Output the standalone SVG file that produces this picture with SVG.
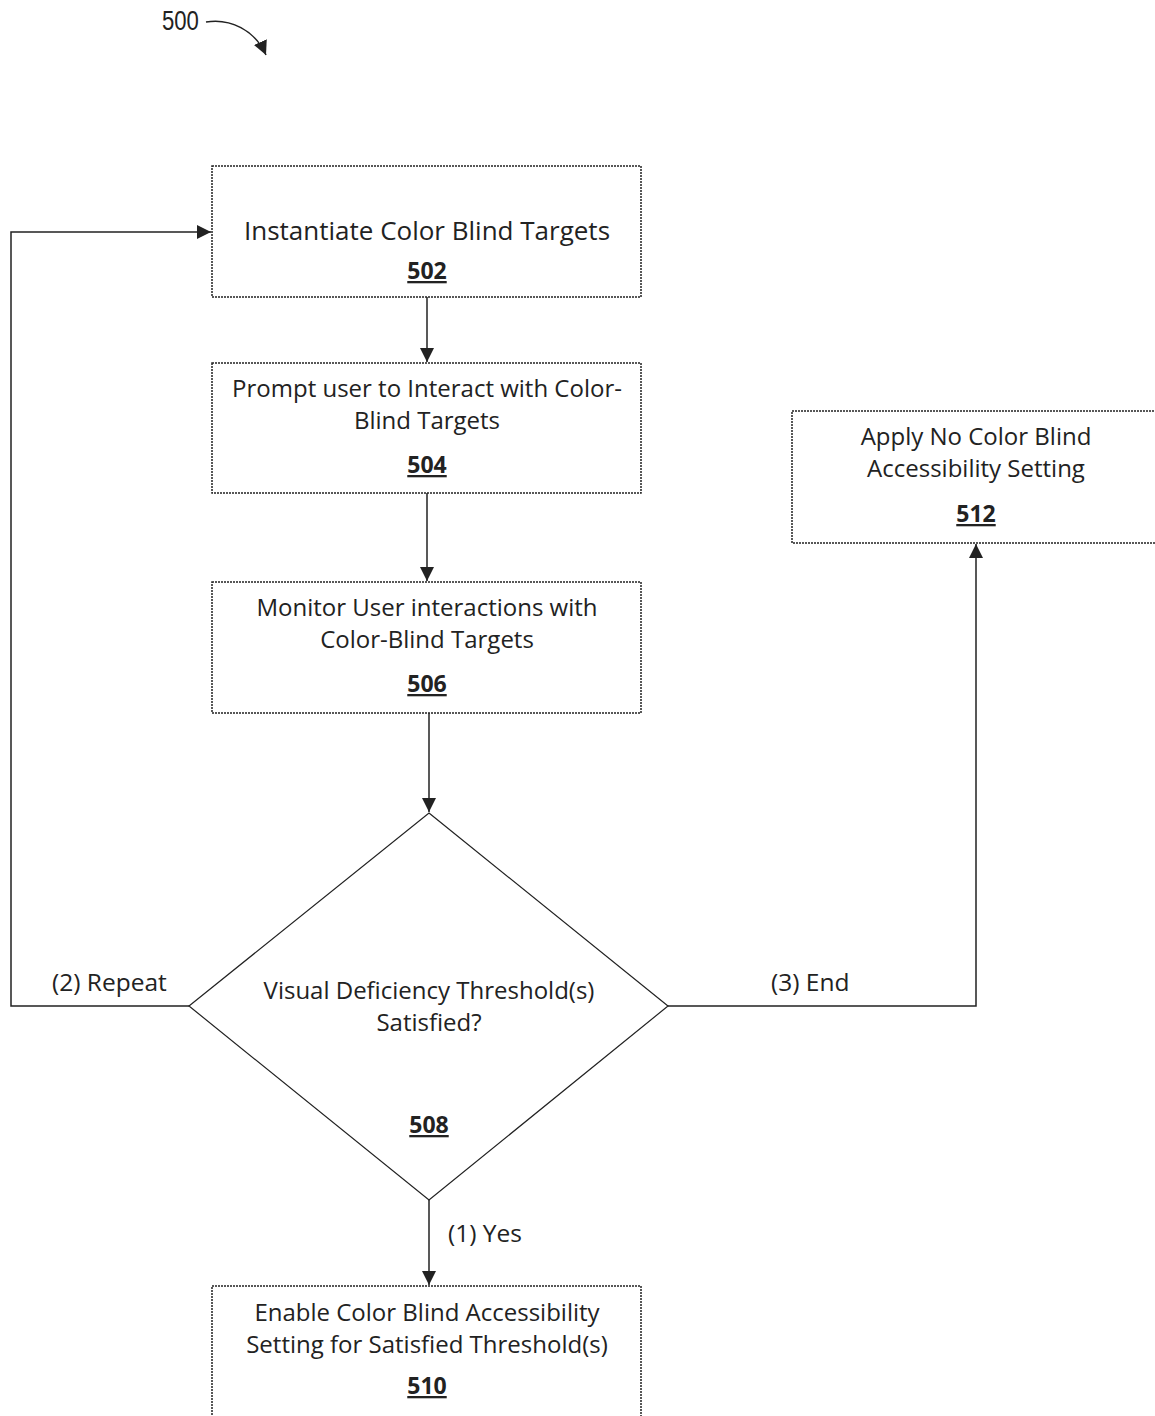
<svg xmlns="http://www.w3.org/2000/svg" width="1155" height="1416" viewBox="0 0 1155 1416">
<defs>
<style>
.box{fill:#fff;stroke:#222;stroke-width:1.5;stroke-dasharray:2 1}
.t{font-family:"Open Sans","Liberation Sans",sans-serif;font-size:24px;fill:#222;text-anchor:middle}
.n{font-family:"Open Sans","Liberation Sans",sans-serif;font-size:23px;font-weight:bold;fill:#222;text-anchor:middle;text-decoration:underline}
.l{font-family:"Open Sans","Liberation Sans",sans-serif;font-size:24.5px;fill:#222}
.c{fill:none;stroke:#222;stroke-width:1.5}
</style>
<marker id="ah" viewBox="0 0 10 10" refX="10" refY="5" markerWidth="14" markerHeight="14" markerUnits="userSpaceOnUse" orient="auto">
<path d="M0,0 L10,5 L0,10 Z" fill="#222"/>
</marker>
</defs>
<rect width="1155" height="1416" fill="#fff"/>
<g id="ref500">
<text x="162" y="30" font-family="Liberation Sans,sans-serif" font-size="27" fill="#222" transform="translate(162 0) scale(0.82 1) translate(-162 0)">500</text>
<path class="c" d="M206,22 C230,18 255,30 266,55" marker-end="url(#ah)"/>
</g>
<g id="connectors">
<line class="c" x1="427" y1="297" x2="427" y2="362" marker-end="url(#ah)"/>
<line class="c" x1="427" y1="493" x2="427" y2="581" marker-end="url(#ah)"/>
<line class="c" x1="429" y1="713" x2="429" y2="812" marker-end="url(#ah)"/>
<line class="c" x1="429" y1="1200" x2="429" y2="1285" marker-end="url(#ah)"/>
<polyline class="c" points="189,1006 11,1006 11,232 211,232" marker-end="url(#ah)"/>
<polyline class="c" points="668,1006 976,1006 976,544" marker-end="url(#ah)"/>
<text class="l" x="52" y="991">(2) Repeat</text>
<text class="l" x="771" y="991">(3) End</text>
<text class="l" x="448" y="1242">(1) Yes</text>
</g>
<g id="n502">
<rect class="box" x="212" y="166" width="429" height="131"/>
<text class="t" x="427" y="240" style="font-size:26px">Instantiate Color Blind Targets</text>
<text class="n" x="427" y="279">502</text>
</g>
<g id="n504">
<rect class="box" x="212" y="363" width="429" height="130"/>
<text class="t" x="427" y="397">Prompt user to Interact with Color-</text>
<text class="t" x="427" y="429">Blind Targets</text>
<text class="n" x="427" y="473">504</text>
</g>
<g id="n506">
<rect class="box" x="212" y="582" width="429" height="131"/>
<text class="t" x="427" y="616">Monitor User interactions with</text>
<text class="t" x="427" y="648">Color-Blind Targets</text>
<text class="n" x="427" y="692">506</text>
</g>
<g id="n508">
<polygon class="box" points="429,813 668,1006 429,1200 189,1006" style="stroke-dasharray:none;stroke-width:1.2"/>
<text class="t" x="429" y="999">Visual Deficiency Threshold(s)</text>
<text class="t" x="429" y="1031">Satisfied?</text>
<text class="n" x="429" y="1133">508</text>
</g>
<g id="n510">
<rect class="box" x="212" y="1286" width="429" height="135"/>
<text class="t" x="427" y="1321">Enable Color Blind Accessibility</text>
<text class="t" x="427" y="1353">Setting for Satisfied Threshold(s)</text>
<text class="n" x="427" y="1394">510</text>
</g>
<g id="n512">
<rect class="box" x="792" y="411" width="366" height="132"/>
<text class="t" x="976" y="445">Apply No Color Blind</text>
<text class="t" x="976" y="477">Accessibility Setting</text>
<text class="n" x="976" y="522">512</text>
</g>
</svg>
